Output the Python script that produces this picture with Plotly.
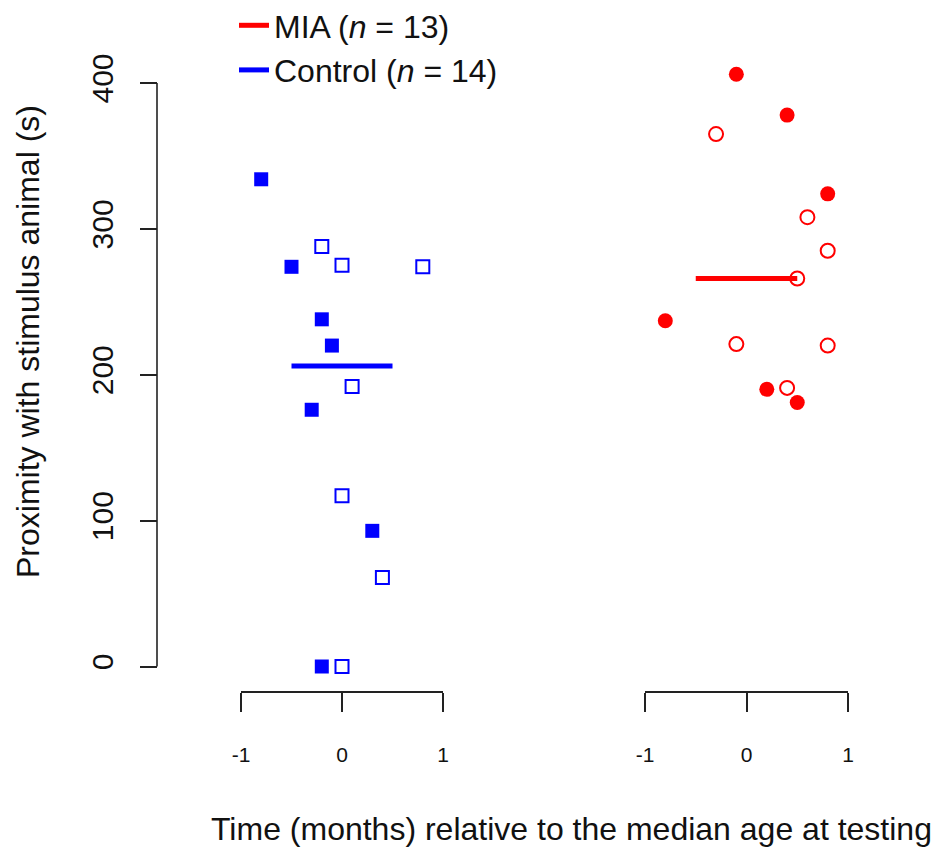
import numpy as np
import plotly.graph_objects as go

W, H = 936, 848

# ---- data ----
control_filled_x = [-0.8, -0.5, -0.2, -0.1, -0.3, 0.3, -0.2]
control_filled_y = [334, 274, 238, 220, 176, 93, 0]
control_open_x = [-0.2, 0.0, 0.8, 0.1, 0.0, 0.4, 0.0]
control_open_y = [288, 275, 274, 192, 117, 61, 0]

mia_filled_x = [-0.1, 0.4, 0.8, -0.8, 0.2, 0.5]
mia_filled_y = [406, 378, 324, 237, 190, 181]
mia_open_x = [-0.3, 0.6, 0.8, 0.5, -0.1, 0.8, 0.4]
mia_open_y = [365, 308, 285, 266, 221, 220, 191]

x_ticks = [-1, 0, 1]
y_ticks = [0, 100, 200, 300, 400]
median_span = [-0.5, 0.5]

control_label = "Control (<i>n</i> = 14)"
mia_label = "MIA (<i>n</i> = 13)"
y_title = "Proximity with stimulus animal (s)"
x_title = "Time (months) relative to the median age at testing"

control_median = float(np.median(control_filled_y + control_open_y))
mia_median = float(np.median(mia_filled_y + mia_open_y))

BLUE = "#0000FF"
RED = "#FF0000"
AXC = "#222222"
FONT = "Liberation Sans, Arial, sans-serif"

def px_x(p):
    return p / W

def px_y(p):
    return 1 - p / H

# y scale: 0 -> pixel 666.5, 400 -> pixel 83
Y0_PX, Y400_PX = 666.5, 83.0
PPU = (Y0_PX - Y400_PX) / 400.0
Y_LO, Y_HI = -20.0, 425.0
dom_bottom_px = Y0_PX - Y_LO * PPU
dom_top_px = Y0_PX - Y_HI * PPU

fig = go.Figure()

# median lines (also legend entries)
fig.add_trace(go.Scatter(x=median_span, y=[mia_median] * 2, xaxis="x2", yaxis="y",
                         mode="lines", line=dict(color=RED, width=5), name=mia_label,
                         cliponaxis=False))
fig.add_trace(go.Scatter(x=median_span, y=[control_median] * 2, xaxis="x", yaxis="y",
                         mode="lines", line=dict(color=BLUE, width=5), name=control_label,
                         cliponaxis=False))

# control points
fig.add_trace(go.Scatter(x=control_filled_x, y=control_filled_y, xaxis="x", yaxis="y",
                         mode="markers", showlegend=False, cliponaxis=False,
                         marker=dict(symbol="square", size=14, color=BLUE,
                                     line=dict(width=0))))
fig.add_trace(go.Scatter(x=control_open_x, y=control_open_y, xaxis="x", yaxis="y",
                         mode="markers", showlegend=False, cliponaxis=False,
                         marker=dict(symbol="square-open", size=13, color=BLUE,
                                     line=dict(width=2, color=BLUE))))
# MIA points
fig.add_trace(go.Scatter(x=mia_filled_x, y=mia_filled_y, xaxis="x2", yaxis="y",
                         mode="markers", showlegend=False, cliponaxis=False,
                         marker=dict(symbol="circle", size=15, color=RED,
                                     line=dict(width=0))))
fig.add_trace(go.Scatter(x=mia_open_x, y=mia_open_y, xaxis="x2", yaxis="y",
                         mode="markers", showlegend=False, cliponaxis=False,
                         marker=dict(symbol="circle-open", size=14, color=RED,
                                     line=dict(width=2, color=RED))))

xaxis_common = dict(range=[-1, 1], tickvals=x_ticks, ticktext=[str(v) for v in x_ticks],
                    showline=True, linecolor=AXC, linewidth=1.6,
                    ticks="outside", ticklen=19, tickwidth=1.6, tickcolor=AXC,
                    showgrid=False, zeroline=False, anchor="free", automargin=False,
                    position=px_y(692), ticklabelstandoff=25,
                    tickfont=dict(family=FONT, size=21, color="#111111"))

fig.update_layout(
    width=W, height=H,
    margin=dict(l=0, r=0, t=0, b=0, pad=0, autoexpand=False),
    paper_bgcolor="white", plot_bgcolor="white",
    xaxis=dict(domain=[px_x(241), px_x(443)], **xaxis_common),
    xaxis2=dict(domain=[px_x(645), px_x(848)], **xaxis_common),
    yaxis=dict(domain=[px_y(dom_bottom_px), px_y(dom_top_px)], range=[Y_LO, Y_HI],
               tickvals=y_ticks, ticktext=[str(v) for v in y_ticks],
               showline=False, automargin=False,
               ticks="outside", ticklen=17, tickwidth=1.6, tickcolor=AXC,
               showgrid=False, zeroline=False, anchor="free", position=px_x(157),
               tickangle=-90, ticklabelstandoff=15,
               tickfont=dict(family=FONT, size=30, color="#111111")),
    shapes=[dict(type="line", xref="paper", yref="y", x0=px_x(157), x1=px_x(157),
                 y0=y_ticks[0], y1=y_ticks[-1], line=dict(color=AXC, width=1.6))],
    showlegend=True,
    legend=dict(x=px_x(234), y=px_y(-2), xanchor="left", yanchor="top",
                bgcolor="rgba(0,0,0,0)", borderwidth=0,
                font=dict(family=FONT, size=32, color="#111111"),
                tracegroupgap=0),
    annotations=[
        dict(text=y_title, textangle=-90, x=px_x(28), y=px_y(342), xref="paper", yref="paper",
             showarrow=False, xanchor="center", yanchor="middle",
             font=dict(family=FONT, size=32, color="#111111")),
        dict(text=x_title, x=px_x(571), y=px_y(829), xref="paper", yref="paper",
             showarrow=False, xanchor="center", yanchor="middle",
             font=dict(family=FONT, size=32, color="#111111")),
    ],
)

fig.write_html("out.html", config={"displayModeBar": False},
               post_script="document.body.style.margin='0';document.body.style.overflow='hidden';")
